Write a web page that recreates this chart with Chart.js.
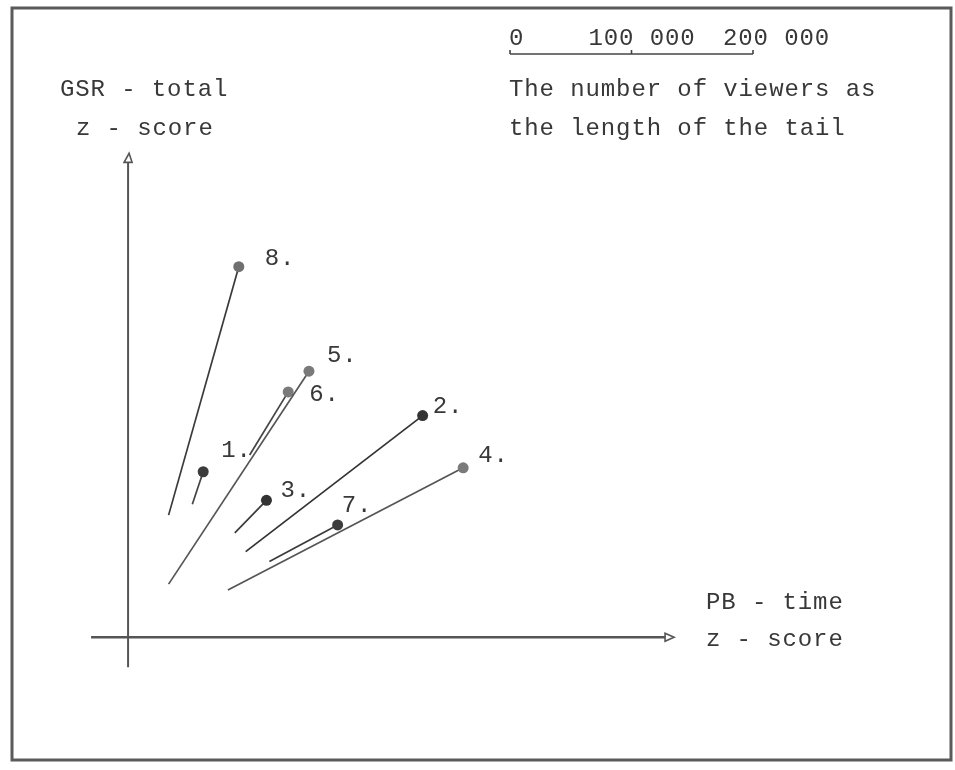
<!DOCTYPE html>
<html lang="en">
<head>
  <meta charset="UTF-8">
  <title>GSR - total vs PB - time</title>
  <script src="https://cdn.jsdelivr.net/npm/chart.js"></script>
  <style>
    html, body { margin: 0; padding: 0; background: #fff; }
    #wrap { width: 955px; height: 770px; }
  </style>
</head>
<body>
  <div id="wrap"><canvas id="grafico" width="955" height="770"></canvas></div>
<script>
  // programmes as numbered in the figure
  const programmes = ['1.', '2.', '3.', '4.', '5.', '6.', '7.', '8.'];
  // head of each point: PB - time z-score and GSR - total z-score
  const pbTime   = [0.76, 2.98, 1.40, 3.39, 1.83, 1.62, 2.12, 1.12];
  const gsrTotal = [1.68, 2.25, 1.39, 1.72, 2.70, 2.49, 1.14, 3.76];
  // far end of each tail (tail length = number of viewers)
  const tailX = [0.65, 1.19, 1.08, 1.01, 0.41, 1.23, 1.43, 0.41];
  const tailY = [1.35, 0.87, 1.06, 0.48, 0.54, 1.85, 0.77, 1.24];
  // key for the tail length
  const viewerTicks  = [0, 100000, 200000];
  const viewerLabels = ['0', '100 000', '200 000'];

  const FONT = '24px "Liberation Mono", "DejaVu Sans Mono", monospace';
  const INK = '#383838';

  const headColours = ['#3c3c3c', '#333', '#333', '#7a7a7a', '#7a7a7a', '#7a7a7a', '#3c3c3c', '#707070'];
  const lineColours = ['#444', '#333', '#3a3a3a', '#555', '#555', '#444', '#3a3a3a', '#3a3a3a'];
  // where each number sits next to its head (px)
  const labelOffsets = [[18, -21], [10, -9], [14, -10], [15, -12], [18, -16], [21, 3], [4, -19], [26, -8]];

  const datasets = programmes.map((p, i) => ({
    label: p,
    data: [{ x: tailX[i], y: tailY[i] }, { x: pbTime[i], y: gsrTotal[i] }],
    showLine: true,
    borderColor: lineColours[i],
    borderWidth: 1.7,
    pointRadius: [0, 5.5],
    pointBackgroundColor: headColours[i],
    pointBorderWidth: 0,
    pointHoverRadius: [0, 5.5]
  }));

  // frame, axes with arrows, texts
  const axesPlugin = {
    id: 'axes',
    beforeDatasetsDraw(chart) {
      const ctx = chart.ctx;
      const xs = chart.scales.x, ys = chart.scales.y;
      const x0 = xs.getPixelForValue(0), y0 = ys.getPixelForValue(0);
      ctx.save();
      ctx.strokeStyle = '#5a5a5a';
      ctx.lineWidth = 3;
      ctx.strokeRect(12, 8, 939, 752);

      ctx.strokeStyle = '#555';
      ctx.lineWidth = 2.5;
      ctx.beginPath();
      ctx.moveTo(x0 - 37, y0);
      ctx.lineTo(x0 + 537, y0);
      ctx.stroke();
      ctx.lineWidth = 1.6;
      ctx.beginPath();
      ctx.moveTo(x0 + 537, y0 - 4);
      ctx.lineTo(x0 + 546, y0);
      ctx.lineTo(x0 + 537, y0 + 4);
      ctx.closePath();
      ctx.stroke();

      ctx.lineWidth = 2;
      ctx.beginPath();
      ctx.moveTo(x0, y0 + 30);
      ctx.lineTo(x0, y0 - 475);
      ctx.stroke();
      ctx.lineWidth = 1.6;
      ctx.beginPath();
      ctx.moveTo(x0 - 4, y0 - 475);
      ctx.lineTo(x0 + 1, y0 - 484);
      ctx.lineTo(x0 + 4, y0 - 475);
      ctx.closePath();
      ctx.stroke();
      ctx.restore();
    },
    afterDraw(chart) {
      const ctx = chart.ctx;
      ctx.save();
      ctx.font = FONT;
      ctx.letterSpacing = '0.9px';
      ctx.fillStyle = INK;
      ctx.textBaseline = 'middle';

      // numbers beside the heads
      chart.data.datasets.forEach((ds, i) => {
        const head = chart.getDatasetMeta(i).data[1];
        const off = labelOffsets[i];
        ctx.fillText(ds.label, head.x + off[0], head.y + off[1]);
      });

      ctx.textBaseline = 'alphabetic';
      ctx.fillText('GSR - total', 60, 96);
      ctx.fillText('z - score', 76, 135);
      ctx.fillText('PB - time', 706, 609);
      ctx.fillText('z - score', 706, 646);
      ctx.fillText('The number of viewers as', 509, 96);
      ctx.fillText('the length of the tail', 509, 135);

      // viewer key: 200 000 viewers = 243 px
      const barX = 510, barY = 54, pxPerViewer = 243 / 200000;
      const labelShift = [1, 43, 30];
      ctx.strokeStyle = '#444';
      ctx.lineWidth = 1.6;
      ctx.beginPath();
      ctx.moveTo(barX, barY);
      ctx.lineTo(barX + viewerTicks[viewerTicks.length - 1] * pxPerViewer, barY);
      ctx.stroke();
      viewerTicks.forEach((v, i) => {
        const px = barX + v * pxPerViewer;
        ctx.beginPath();
        ctx.moveTo(px, barY);
        ctx.lineTo(px, barY - 4);
        ctx.stroke();
        ctx.fillText(viewerLabels[i], px - labelShift[i], 45);
      });
      ctx.restore();
    }
  };

  new Chart(document.getElementById('grafico'), {
    type: 'scatter',
    data: { datasets: datasets },
    options: {
      responsive: false,
      animation: false,
      events: [],
      layout: { padding: 0 },
      plugins: { legend: { display: false }, tooltip: { enabled: false } },
      scales: {
        x: { type: 'linear', min: -1.24, max: 8.31, display: false },
        y: { type: 'linear', min: -1.29, max: 6.41, display: false }
      }
    },
    plugins: [axesPlugin]
  });
</script>
</body>
</html>
